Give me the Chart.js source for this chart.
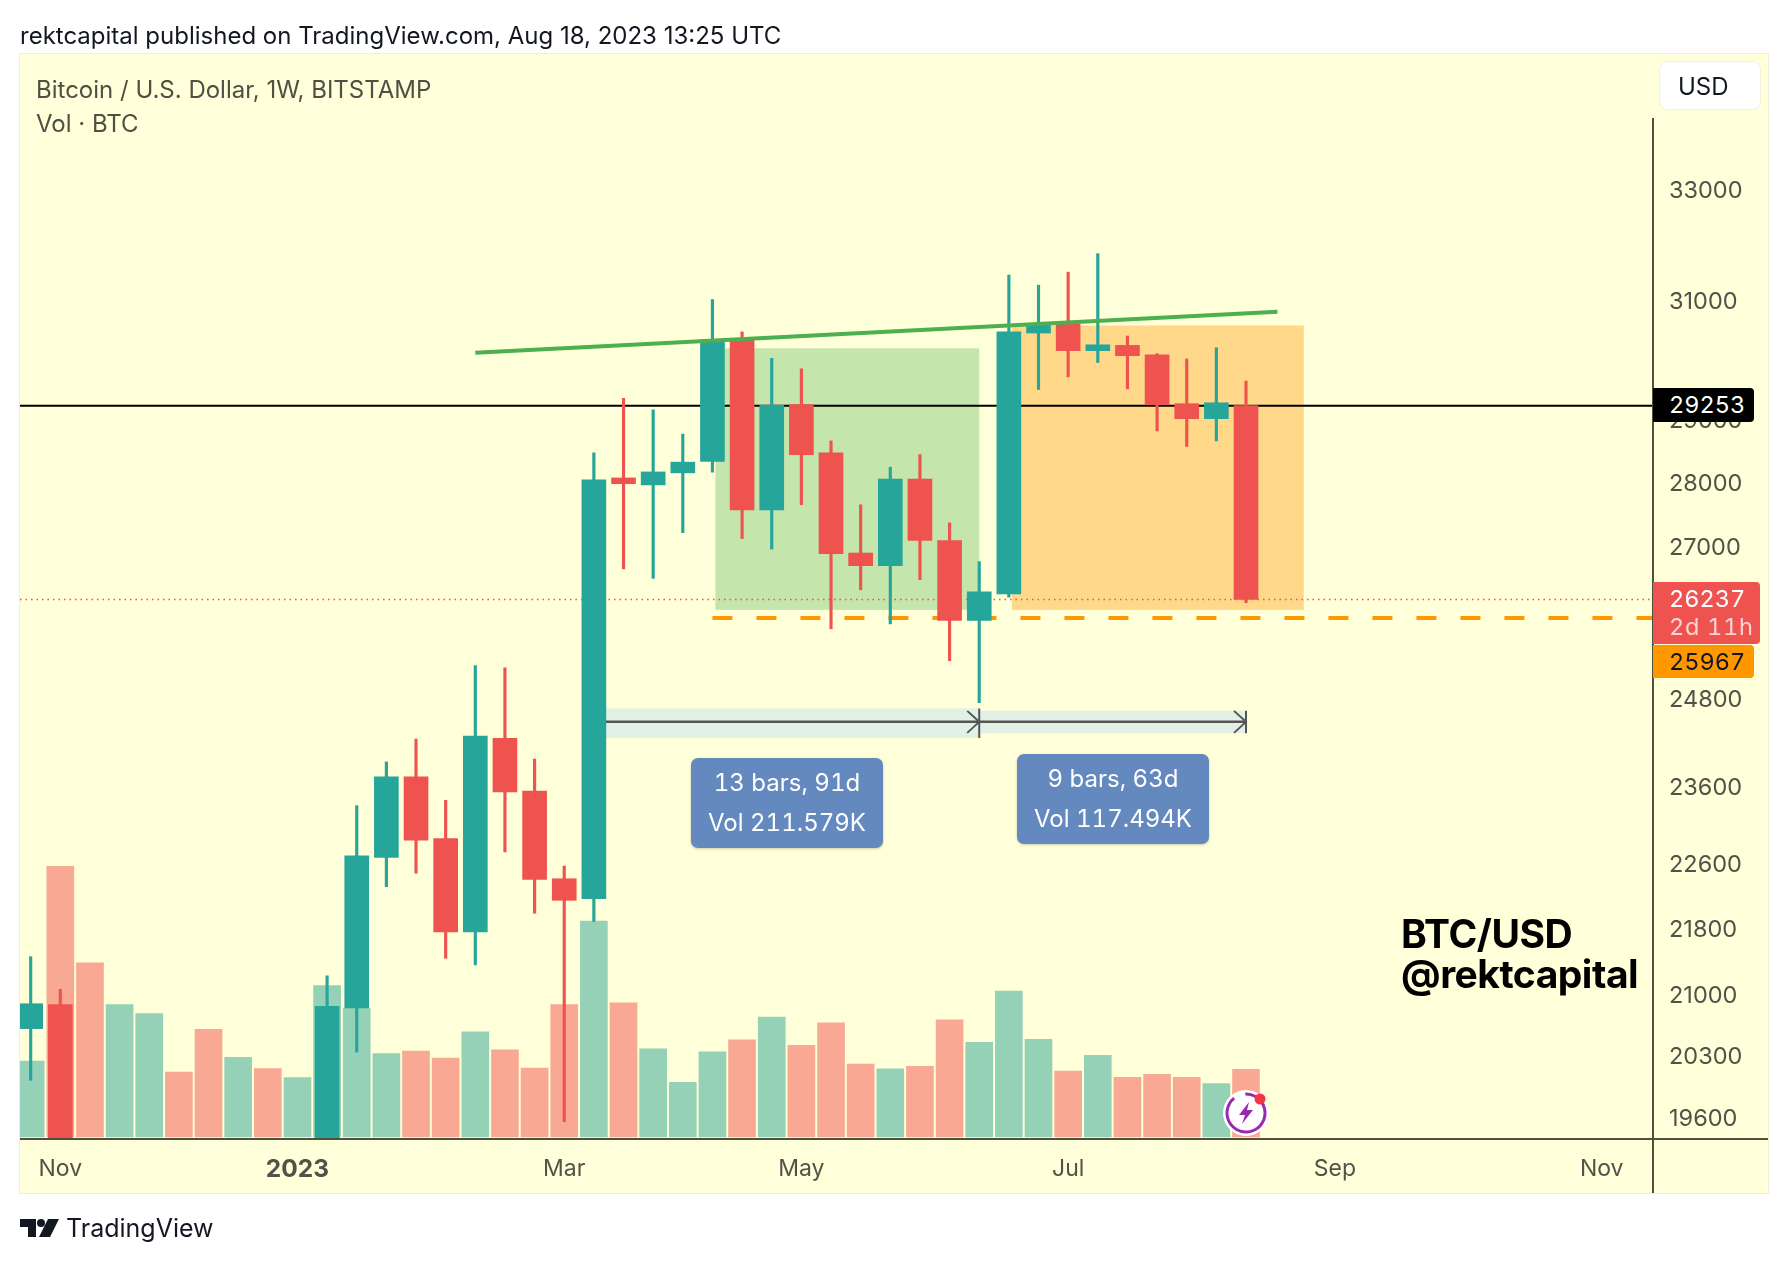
<!DOCTYPE html>
<html>
<head>
<meta charset="utf-8">
<title>BTC/USD 1W</title>
<script src="https://cdn.jsdelivr.net/npm/chart.js@4/dist/chart.umd.min.js"></script>
<style>
  html, body { margin: 0; padding: 0; background: #fff; }
  body { width: 1788px; height: 1264px; position: relative; overflow: hidden; font-family: Inter, "Noto Sans", sans-serif; }
  #panel { position: absolute; left: 20px; top: 54px; width: 1748px; height: 1139px; background: #ffffd9; box-shadow: 0 0 0 1px #eef0dc; }
  canvas { position: absolute; left: 0; top: 0; }
  .txt { position: absolute; white-space: nowrap; line-height: 1; }
  .tag { position: absolute; left: 1653px; border-radius: 0 4px 4px 0; }
  .tagtxt { position: absolute; left: 1669px; white-space: nowrap; line-height: 1; font-size: 23.5px; font-variant-numeric: tabular-nums; }
  .caixa { position: absolute; width: 192px; height: 90px; border-radius: 7px; background: #6489bf; box-shadow: 0 1px 3px rgba(0,0,0,.2); color: #fff; text-align: center; font-size: 24px; font-variant-numeric: tabular-nums; }
  .caixa div { position: absolute; left: 0; right: 0; line-height: 1; }
</style>
</head>
<body>
<div id="panel"></div>
<canvas id="grafico" width="1788" height="1264"></canvas>

<div class="txt" style="left:20px;top:24px;font-size:24px;color:#131722">rektcapital published on TradingView.com, Aug 18, 2023 13:25 UTC</div>
<div class="txt" style="left:36px;top:78px;font-size:24px;color:#4f4f45">Bitcoin / U.S. Dollar, 1W, BITSTAMP</div>
<div class="txt" style="left:36px;top:112px;font-size:24px;color:#4f4f45">Vol · BTC</div>

<div style="position:absolute;left:1660px;top:62px;width:100px;height:47px;background:#fff;border-radius:8px;box-shadow:0 0 0 1px #f1f1e4"></div>
<div class="txt" style="left:1678px;top:75px;font-size:24px;color:#131722">USD</div>

<div class="tag" style="top:388px;width:101px;height:34px;background:#000"></div>
<div class="tagtxt" style="top:393px;color:#fff">29253</div>
<div class="tag" style="top:582px;width:107px;height:62px;background:#ef5350"></div>
<div class="tagtxt" style="top:587px;color:#fff">26237</div>
<div class="tagtxt" style="top:615px;color:#fcd4d3;letter-spacing:0.7px">2d 11h</div>
<div class="tag" style="top:645px;width:101px;height:33px;background:#ff9800"></div>
<div class="tagtxt" style="top:650px;color:#131722">25967</div>

<div class="caixa" style="left:691px;top:758px"><div style="top:13px">13 bars, 91d</div><div style="top:53px">Vol 211.579K</div></div>
<div class="caixa" style="left:1017px;top:754px"><div style="top:13px">9 bars, 63d</div><div style="top:53px">Vol 117.494K</div></div>

<div class="txt" style="left:1401px;top:914px;font-size:39px;font-weight:700;color:#000;letter-spacing:-0.5px">BTC/USD</div>
<div class="txt" style="left:1401px;top:954px;font-size:39px;font-weight:700;color:#000;letter-spacing:-0.5px">@rektcapital</div>

<!-- icone do raio -->
<svg style="position:absolute;left:1222px;top:1089px" width="48" height="48" viewBox="0 0 48 48">
  <circle cx="24" cy="24" r="23" fill="#fff"/>
  <circle cx="24" cy="24" r="19" fill="none" stroke="#9c27b0" stroke-width="3" stroke-dasharray="96 12" transform="rotate(-60 24 24)"/>
  <path d="M27 13 L17 26 L23 26 L20 35 L31 21 L25 21 Z" fill="#9c27b0"/>
  <circle cx="38" cy="10" r="5.5" fill="#f23645"/>
</svg>

<!-- logo TradingView -->
<svg style="position:absolute;left:20px;top:1219px" width="40" height="19" viewBox="0 0 40 19">
  <path d="M0 0 H16 V18 H8 V8 H0 Z" fill="#131722"/>
  <circle cx="21" cy="4" r="4" fill="#131722"/>
  <path d="M28 0 H39 L30 18 H19 Z" fill="#131722"/>
</svg>
<div class="txt" style="left:66px;top:1216px;font-size:25px;color:#131722">TradingView</div>

<script>
// semanas 2 a 9 ficam abaixo da escala visivel, por isso null
// o fundo das velas 1 e 10 tambem fica abaixo da escala (estimado 19000)
var abertura = [20620, 20900, null, null, null, null, null, null, null, null, 19000, 20860, 22700, 23750, 22940, 21770, 24270, 23560, 22430, 22180, 28090, 27980, 28170, 28350, 30350, 27590, 29270, 28490, 26930, 26740, 28070, 27120, 25930, 26320, 30470, 30630, 30170, 30260, 30100, 29285, 29040, 29253]
var maxima = [21470, 21080, null, null, null, null, null, null, null, null, 21240, 23370, 23950, 24260, 23440, 25280, 25250, 23990, 22590, 28490, 29375, 29185, 28790, 31050, 30490, 30040, 29865, 28680, 27670, 28260, 28460, 27390, 26800, 31480, 31300, 31530, 31860, 30420, 30120, 30030, 30220, 29660]
var minima = [20030, 19000, null, null, null, null, null, null, null, null, 19000, 20350, 22330, 22500, 21450, 21370, 22770, 22000, 19570, 21900, 26690, 26550, 27240, 28180, 27150, 26990, 27670, 25810, 26380, 25880, 26530, 25350, 24760, 26270, 29520, 29730, 29970, 29530, 28840, 28590, 28680, 26190]
var fechamento = [20910, 19000, null, null, null, null, null, null, null, null, 20880, 22720, 23750, 22920, 21770, 24300, 23550, 22420, 22160, 28060, 28000, 28185, 28340, 30350, 27590, 29260, 28460, 26920, 26740, 28070, 27120, 25930, 26350, 30490, 30630, 30170, 30270, 30085, 29270, 29040, 29300, 26237]
var volume = [12900, 46000, 29600, 22500, 21000, 11050, 18300, 13550, 11650, 10100, 25750, 21900, 14200, 14600, 13400, 17900, 14800, 11700, 22500, 36700, 22800, 15000, 9300, 14500, 16500, 20400, 15600, 19400, 12400, 11600, 12000, 19900, 16100, 24800, 16600, 11200, 13900, 10150, 10650, 10150, 9100, 11500]

var precoTicks = [33000, 31000, 29000, 28000, 27000, 24800, 23600, 22600, 21800, 21000, 20300, 19600]
var tempoTicks = [1, 9, 18, 26, 35, 44, 53]
var tempoLabels = ["Nov", "2023", "Mar", "May", "Jul", "Sep", "Nov"]

// desenhos do grafico, em semanas e precos
var tendenciaX = [15, 42.06]
var tendenciaY = [30135, 30837]
var precoAtual = 26237
var resistencia = 29253
var suporte = 25967
var suporteInicio = 23
var retanguloVerde = [23.1, 32.0, 30210, 26085]
var retanguloLaranja = [33.1, 42.95, 30600, 26085]
var medida1 = [19, 32, 24680, 24275]
var medida2 = [32, 41, 24650, 24340]
var medidaPreco = 24495

const XMIN = -0.36
const XMAX = 54.73

const TEAL = "#26a69a"
const VERMELHO = "#ef5350"
const TEXTO = "#50534a"

function indices(lista) {
  return lista.map((v, i) => i)
}

function corVela(i) {
  return fechamento[i] >= abertura[i] ? TEAL : VERMELHO
}

var velas = indices(abertura).filter(i => abertura[i] != null)

var corpos = velas.map(i => ({ x: i, y: [abertura[i], fechamento[i]] }))
var pavios = velas.map(i => ({ x: i, y: [minima[i], maxima[i]] }))
var barrasVolume = volume.map((v, i) => ({ x: i, y: v }))

function corVolume(i) {
  // semanas fora da escala: cor lida direto do volume na imagem
  var vermelhas = [2, 5, 6, 8]
  if (abertura[i] == null) return vermelhas.includes(i) ? "#f9a893" : "#95d1b6"
  return corVela(i) == TEAL ? "#95d1b6" : "#f9a893"
}

function linha(dados, cor, largura, tracejado, ordem) {
  return {
    type: "line",
    data: dados,
    borderColor: cor,
    borderWidth: largura,
    borderDash: tracejado,
    pointRadius: 0,
    order: ordem,
    yAxisID: "y",
    tension: 0
  }
}

// retangulos e faixas atras das velas, setas por cima
const desenhos = {
  id: "desenhos",
  beforeDatasetsDraw(chart) {
    const x = chart.scales.x
    const y = chart.scales.y
    const ctx = chart.ctx
    function retangulo(r, cor) {
      ctx.fillStyle = cor
      ctx.fillRect(x.getPixelForValue(r[0]), y.getPixelForValue(r[2]),
        x.getPixelForValue(r[1]) - x.getPixelForValue(r[0]),
        y.getPixelForValue(r[3]) - y.getPixelForValue(r[2]))
    }
    retangulo(retanguloVerde, "rgba(76,175,80,0.33)")
    retangulo(retanguloLaranja, "rgba(255,152,0,0.37)")
    retangulo(medida1, "#e3f0e6")
    retangulo(medida2, "#e3f0e6")
  },
  afterDatasetsDraw(chart) {
    const x = chart.scales.x
    const y = chart.scales.y
    const a = chart.chartArea
    const ctx = chart.ctx
    ctx.save()
    ctx.strokeStyle = "#555"
    ctx.lineWidth = 2
    ;[medida1, medida2].forEach(function (m) {
      var px = x.getPixelForValue(m[1])
      var py = y.getPixelForValue(medidaPreco)
      ctx.beginPath()
      ctx.moveTo(px, y.getPixelForValue(m[2]))
      ctx.lineTo(px, y.getPixelForValue(m[3]))
      ctx.moveTo(px - 12, py - 11)
      ctx.lineTo(px, py)
      ctx.lineTo(px - 12, py + 11)
      ctx.stroke()
    })
    // eixos
    ctx.strokeStyle = "#50503f"
    ctx.lineWidth = 2
    ctx.beginPath()
    ctx.moveTo(a.left, a.bottom)
    ctx.lineTo(1768, a.bottom)
    ctx.moveTo(a.right, a.top)
    ctx.lineTo(a.right, 1193)
    ctx.stroke()
    ctx.restore()
  }
}

const config = {
  data: {
    datasets: [
      linha(tendenciaX.map((v, i) => ({ x: v, y: tendenciaY[i] })), "#4caf50", 4, [], 0),
      {
        type: "bar",
        data: corpos,
        backgroundColor: velas.map(corVela),
        barThickness: 24,
        order: 1,
        yAxisID: "y"
      },
      {
        type: "bar",
        data: pavios,
        backgroundColor: velas.map(corVela),
        barThickness: 2.5,
        order: 2,
        yAxisID: "y"
      },
      linha([{ x: XMIN, y: resistencia }, { x: XMAX, y: resistencia }], "#000", 2, [], 3),
      linha([{ x: XMIN, y: precoAtual }, { x: XMAX, y: precoAtual }], VERMELHO, 1.5, [1.5, 4], 3),
      linha([{ x: suporteInicio, y: suporte }, { x: XMAX, y: suporte }], "#ff9800", 4, [20, 24], 3),
      linha([{ x: medida1[0], y: medidaPreco }, { x: medida2[1], y: medidaPreco }], "#555", 2.5, [], 3),
      {
        type: "bar",
        data: barrasVolume,
        backgroundColor: volume.map((v, i) => corVolume(i)),
        barThickness: 27,
        order: 5,
        yAxisID: "yVolume"
      }
    ]
  },
  options: {
    responsive: false,
    animation: false,
    devicePixelRatio: 1,
    parsing: { xAxisKey: "x", yAxisKey: "y" },
    datasets: { bar: { grouped: false } },
    layout: { padding: { left: 20, right: 20, top: 118, bottom: 71 } },
    plugins: { legend: { display: false }, tooltip: { enabled: false } },
    scales: {
      x: {
        type: "linear",
        offset: false,
        min: XMIN,
        max: XMAX,
        grid: { display: false, offset: false },
        border: { display: false },
        afterBuildTicks: function (eixo) {
          eixo.ticks = tempoTicks.map(v => ({ value: v }))
        },
        afterFit: function (eixo) {
          eixo.height = 54
        },
        ticks: {
          autoSkip: false,
          maxRotation: 0,
          padding: 8,
          color: TEXTO,
          font: function (c) {
            var negrito = tempoLabels[c.index] == "2023"
            return {
              family: "Inter",
              size: negrito ? 24.5 : 23,
              weight: negrito ? "bold" : "normal"
            }
          },
          callback: function (valor, i) {
            return tempoLabels[i]
          }
        }
      },
      y: {
        type: "logarithmic",
        position: "right",
        min: 19381,
        max: 34380,
        grid: { display: false },
        border: { display: false },
        afterBuildTicks: function (eixo) {
          eixo.ticks = precoTicks.map(v => ({ value: v }))
        },
        afterFit: function (eixo) {
          eixo.width = 115
        },
        ticks: {
          autoSkip: false,
          padding: 8,
          color: TEXTO,
          font: { family: "Inter", size: 23.5 },
          callback: function (valor) {
            return String(valor)
          }
        }
      },
      yVolume: {
        type: "linear",
        display: false,
        min: -340,
        max: 173230
      }
    }
  },
  plugins: [desenhos]
}

var meuGrafico = new Chart(document.getElementById("grafico"), config)
</script>
</body>
</html>
